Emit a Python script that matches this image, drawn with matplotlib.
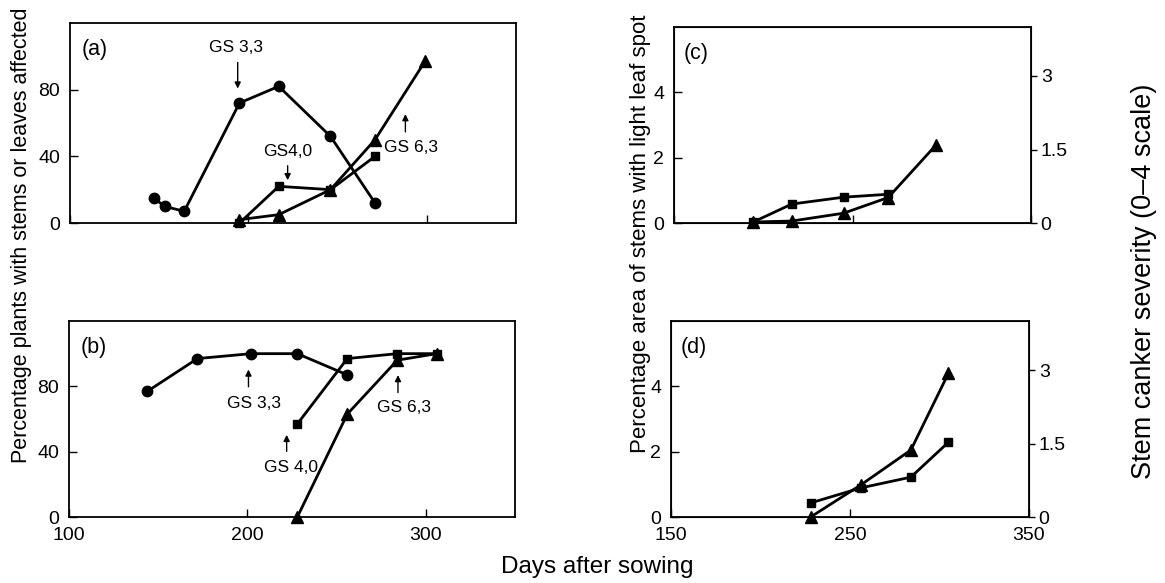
import matplotlib
matplotlib.use("Agg")
import matplotlib.pyplot as plt

plt.rcParams['font.family'] = ['Liberation Sans', 'DejaVu Sans']

# (a) plants with stems or leaves affected
a_circ_x = [147, 153, 164, 195, 217, 246, 271]
a_circ_y = [15, 10, 7, 72, 82, 52, 12]
a_sq_x = [195, 217, 246, 271]
a_sq_y = [0, 22, 20, 40]
a_tri_x = [195, 217, 246, 271, 299]
a_tri_y = [2, 5, 20, 50, 97]

# (b)
b_circ_x = [144, 172, 202, 228, 256]
b_circ_y = [77, 97, 100, 100, 87]
b_sq_x = [228, 256, 284, 306]
b_sq_y = [57, 97, 100, 100]
b_tri_x = [228, 256, 284, 306]
b_tri_y = [0, 63, 96, 100]

# (c) light leaf spot area
c_sq_x = [194, 216, 245, 270]
c_sq_y = [0.02, 0.58, 0.79, 0.88]
c_tri_x = [194, 216, 245, 270, 297]
c_tri_y = [0.03, 0.06, 0.3, 0.78, 2.4]

# (d)
d_sq_x = [228, 256, 284, 305]
d_sq_y = [0.43, 0.89, 1.22, 2.29]
d_tri_x = [228, 256, 284, 305]
d_tri_y = [0, 0.98, 2.05, 4.4]

W, H = 1165, 583
fig = plt.figure(figsize=(W / 100, H / 100), dpi=100)


def box(l, t, r, b):
    return [l / W, 1 - b / H, (r - l) / W, (b - t) / H]


ax_a = fig.add_axes(box(70, 23, 516, 223))
ax_b = fig.add_axes(box(69, 321, 515, 517))
ax_c = fig.add_axes(box(674, 27, 1031, 223))
ax_d = fig.add_axes(box(671, 321, 1029, 517))

lw = 2
circ = dict(marker='o', ms=7.5, color='black', lw=lw, clip_on=False)
sq = dict(marker='s', ms=6, color='black', lw=lw, clip_on=False)
tri = dict(marker='^', ms=8, color='black', lw=lw, clip_on=False)

ax_a.plot(a_circ_x, a_circ_y, **circ)
ax_a.plot(a_sq_x, a_sq_y, **sq)
ax_a.plot(a_tri_x, a_tri_y, **tri)

ax_b.plot(b_circ_x, b_circ_y, **circ)
ax_b.plot(b_sq_x, b_sq_y, **sq)
ax_b.plot(b_tri_x, b_tri_y, **tri)

ax_c.plot(c_sq_x, c_sq_y, **sq)
ax_c.plot(c_tri_x, c_tri_y, **tri)

ax_d.plot(d_sq_x, d_sq_y, **sq)
ax_d.plot(d_tri_x, d_tri_y, **tri)

for ax in (ax_a, ax_b):
    ax.set_xlim(100, 350)
    ax.set_ylim(0, 120)
    ax.set_yticks([0, 40, 80])
    ax.set_xticks([100, 200, 300])
for ax in (ax_c, ax_d):
    ax.set_xlim(150, 350)
    ax.set_ylim(0, 6)
    ax.set_yticks([0, 2, 4])
    ax.set_xticks([150, 250, 350])

for ax in (ax_a, ax_b, ax_c, ax_d):
    for s in ax.spines.values():
        s.set_linewidth(1.3)
    ax.tick_params(direction='in', length=6, width=1, labelsize=14, pad=7)
ax_a.tick_params(axis='x', labelbottom=False)
ax_c.tick_params(axis='x', labelbottom=False)

# right-hand severity axis
for ax in (ax_c, ax_d):
    tw = ax.twinx()
    tw.set_ylim(0, 4)
    tw.set_yticks([0, 1.5, 3])
    tw.set_yticklabels(['0', '1.5', '3'])
    tw.tick_params(direction='out', length=4, width=1, labelsize=14, pad=3)

for ax, lab in zip((ax_a, ax_b, ax_c, ax_d), ['(a)', '(b)', '(c)', '(d)']):
    ax.text(0.027, 0.865, lab, transform=ax.transAxes, fontsize=15.5, va='center')

arrow = dict(arrowstyle='-|>', lw=1, color='black', mutation_scale=9)
ann = dict(fontsize=12.5, ha='center', va='center')

ax_a.annotate('', xy=(194, 79), xytext=(194, 98), arrowprops=arrow)
ax_a.text(193, 105, 'GS 3,3', **ann)
ax_a.annotate('', xy=(222, 24), xytext=(222, 36), arrowprops=arrow)
ax_a.text(222, 43, 'GS4,0', **ann)
ax_a.annotate('', xy=(288, 67), xytext=(288, 53), arrowprops=arrow)
ax_a.text(291, 45, 'GS 6,3', **ann)

ax_b.annotate('', xy=(200.6, 92), xytext=(200.6, 78), arrowprops=arrow)
ax_b.text(203.5, 69.5, 'GS 3,3', **ann)
ax_b.annotate('', xy=(222, 52), xytext=(222, 38.5), arrowprops=arrow)
ax_b.text(224.5, 30.5, 'GS 4,0', **ann)
ax_b.annotate('', xy=(284.4, 88.6), xytext=(284.4, 74.5), arrowprops=arrow)
ax_b.text(288, 67, 'GS 6,3', **ann)

fig.text(22 / W, 1 - 235 / H, 'Percentage plants with stems or leaves affected',
         rotation=90, ha='center', va='center', fontsize=15.5)
fig.text(641 / W, 1 - 234 / H, 'Percentage area of stems with light leaf spot',
         rotation=90, ha='center', va='center', fontsize=16)
fig.text(1144 / W, 1 - 281 / H, 'Stem canker severity (0\u20134 scale)',
         rotation=90, ha='center', va='center', fontsize=19.5)
fig.text(597 / W, 1 - 567 / H, 'Days after sowing', ha='center', va='center',
         fontsize=17.5)

fig.savefig('out.png', dpi=100)
